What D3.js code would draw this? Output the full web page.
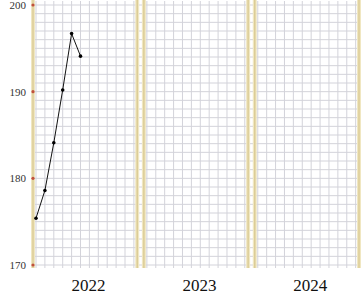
<!DOCTYPE html>
<html>
<head>
<meta charset="utf-8">
<script src="https://cdn.jsdelivr.net/npm/d3@7"></script>
<style>
	body{margin:0;background:#fff;}
	svg{display:block;}
</style>
</head>
<body>
<div id="chart"></div>
<script>
// chart data
const years = ['2022', '2023', '2024'];
const monthIdx = [0, 1, 2, 3, 4, 5];
const values = [175.4, 178.6, 184.1, 190.2, 196.7, 194.1];
const valueYear = '2022';
const yTicks = [170, 180, 190, 200];
const yDomain = [170, 200];

const serifFont = "'Liberation Serif', 'DejaVu Serif', 'Times New Roman', serif";

function PanelChart(divElement){
	let wSvg = 364,
		hSvg = 300,
		margin = {top:5, right:5, bottom:35, left:33},
		scaleYear = d3.scaleBand(),
		scaleMonth = d3.scaleLinear().domain([0, 11]),
		scaleY = d3.scaleLinear().domain(yDomain);

	scaleYear.domain(years).range([margin.left, 359]).paddingInner(0.06);
	scaleY.range([hSvg - margin.bottom, margin.top]);

	let svgElem = divElement.append("svg").attr("width", wSvg).attr("height", hSvg);

	// month position inside a year panel
	function xPos(year, m){
		let x0 = scaleYear(year) + 3;
		scaleMonth.range([x0, x0 + 8.9*11]);
		return scaleMonth(m);
	}

	// horizontal grid, one per unit
	svgElem.append("g").selectAll("line")
		.data(d3.range(yDomain[0], yDomain[1] + 1, 1))
		.join("line")
		.attr("x1", margin.left).attr("x2", 360)
		.attr("y1", d => scaleY(d)).attr("y2", d => scaleY(d))
		.attr("stroke", "#d3d3da").attr("stroke-width", 1);

	// vertical grid, one per month in each year
	years.forEach(function(ye){
		svgElem.append("g").selectAll("line")
			.data(d3.range(12))
			.join("line")
			.attr("x1", d => xPos(ye, d)).attr("x2", d => xPos(ye, d))
			.attr("y1", 1).attr("y2", scaleY(yDomain[0]) + 3)
			.attr("stroke", "#d3d3da").attr("stroke-width", 1);
	});

	// yellow borders of each year panel
	years.forEach(function(ye){
		[scaleYear(ye), scaleYear(ye) + scaleYear.bandwidth()].forEach(function(bx){
			svgElem.append("rect")
				.attr("x", bx - 2).attr("y", 0)
				.attr("width", 4).attr("height", scaleY(yDomain[0]) + 3)
				.attr("fill", "#f0e7c2");
			svgElem.append("line")
				.attr("x1", bx).attr("x2", bx)
				.attr("y1", 0).attr("y2", scaleY(yDomain[0]) + 3)
				.attr("stroke", "#dccd96").attr("stroke-width", 1.5);
		});
	});

	// y axis ticks and labels
	let yAxis = svgElem.append("g");
	yAxis.selectAll("circle")
		.data(yTicks)
		.join("circle")
		.attr("cx", margin.left).attr("cy", d => scaleY(d))
		.attr("r", 1.6).attr("fill", "#c0503c");
	yAxis.selectAll("text")
		.data(yTicks)
		.join("text")
		.attr("x", margin.left - 7).attr("y", d => scaleY(d))
		.attr("dy", "0.35em")
		.attr("text-anchor", "end")
		.style("font-family", serifFont)
		.style("font-size", "11px")
		.attr("fill", "#333")
		.text(d => d);

	// year labels
	svgElem.append("g").selectAll("text")
		.data(years)
		.join("text")
		.attr("x", d => xPos(d, 5.9))
		.attr("y", 291)
		.attr("text-anchor", "middle")
		.style("font-family", serifFont)
		.style("font-size", "17px")
		.attr("fill", "#111")
		.text(d => d);

	// data line
	let pts = monthIdx.map((m, i) => [xPos(valueYear, m), scaleY(values[i])]);
	svgElem.append("path")
		.attr("d", d3.line()(pts))
		.attr("fill", "none")
		.attr("stroke", "#111")
		.attr("stroke-width", 1);
	svgElem.append("g").selectAll("circle")
		.data(pts)
		.join("circle")
		.attr("cx", d => d[0]).attr("cy", d => d[1])
		.attr("r", 1.8).attr("fill", "#000");
}

PanelChart(d3.select("#chart"));
</script>
</body>
</html>
